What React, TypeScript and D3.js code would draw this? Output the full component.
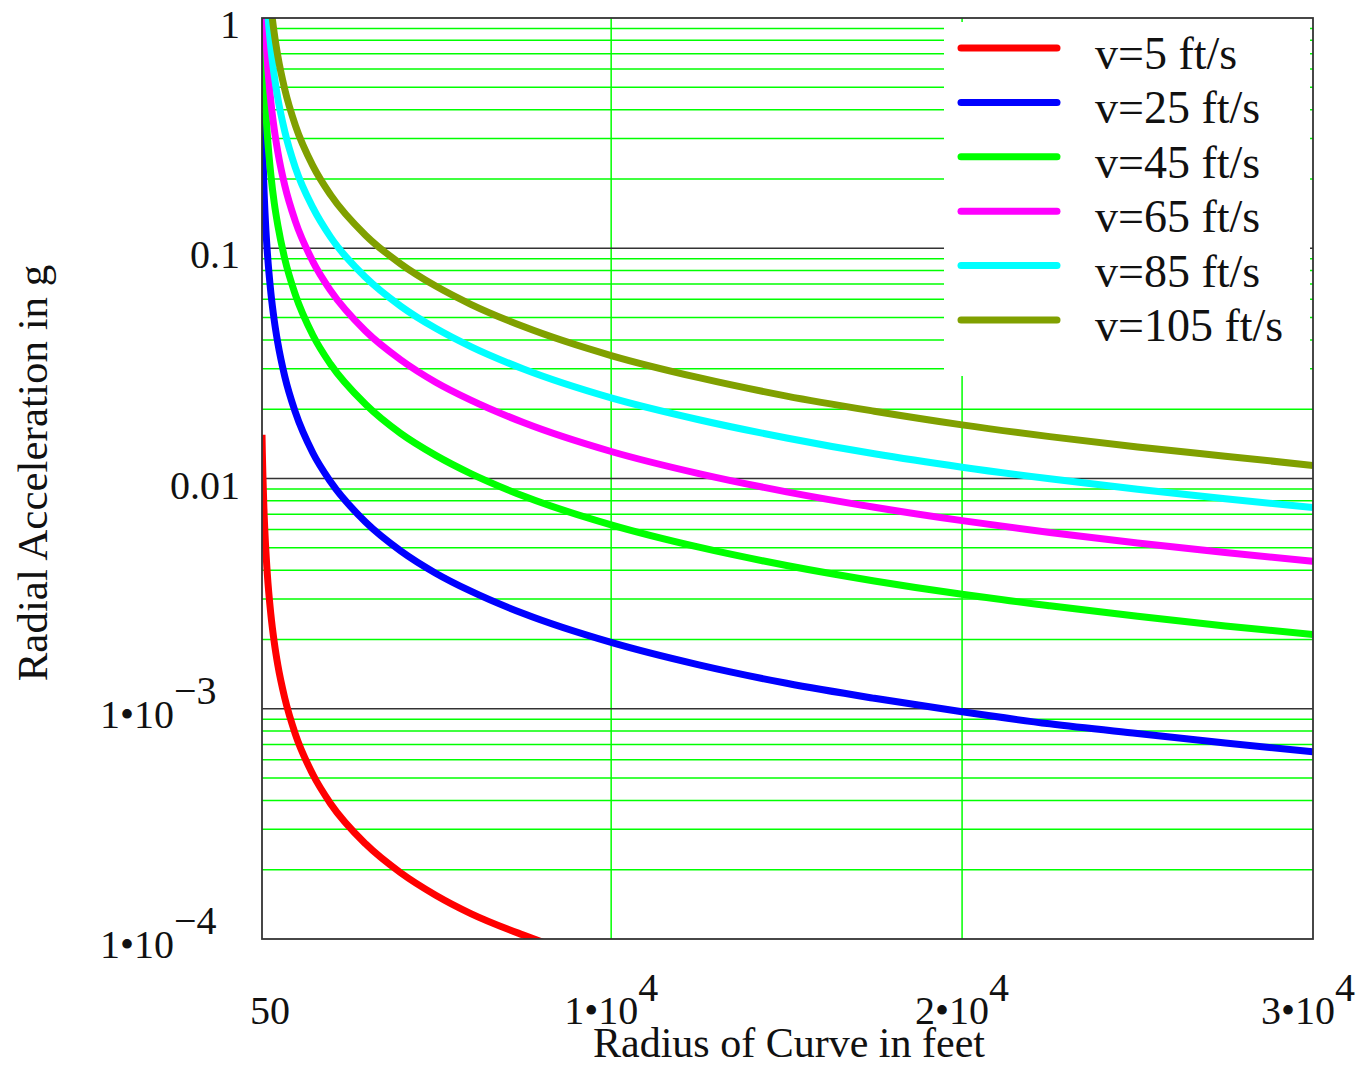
import React from "react";
import * as d3 from "d3";

// Radius of curve (ft) sample points
const radii = [50, 60, 75, 100, 150, 200, 300, 400, 500, 700, 1000, 1500, 2000, 3000, 4000, 5000, 6000, 7500, 10000, 12500, 15000, 17500, 20000, 22500, 25000, 27500, 30000];

// Radial acceleration in g
const accV5 = [0.0155, 0.0129, 0.0104, 0.00776, 0.00518, 0.00388, 0.00259, 0.00194, 0.00155, 0.00111, 0.000776, 0.000518, 0.000388, 0.000259, 0.000194, 0.000155, 0.000129, 0.000104, 0.0000776, 0.0000621, 0.0000518, 0.0000444, 0.0000388, 0.0000345, 0.0000311, 0.0000282, 0.0000259];
const accV25 = [0.388, 0.323, 0.259, 0.194, 0.129, 0.097, 0.0647, 0.0485, 0.0388, 0.0277, 0.0194, 0.0129, 0.0097, 0.00647, 0.00485, 0.00388, 0.00324, 0.00259, 0.00194, 0.00155, 0.00129, 0.00111, 0.00097, 0.00086, 0.00078, 0.00071, 0.00065];
const accV45 = [1.258, 1.048, 0.839, 0.629, 0.419, 0.314, 0.21, 0.157, 0.126, 0.0898, 0.0629, 0.0419, 0.0314, 0.021, 0.0157, 0.0126, 0.0105, 0.00839, 0.00629, 0.00503, 0.00419, 0.00359, 0.00314, 0.0028, 0.00252, 0.00229, 0.0021];
const accV65 = [2.62, 2.19, 1.75, 1.312, 0.875, 0.656, 0.437, 0.328, 0.262, 0.187, 0.131, 0.0875, 0.0656, 0.0437, 0.0328, 0.0262, 0.0219, 0.0175, 0.0131, 0.0105, 0.00875, 0.0075, 0.00656, 0.00583, 0.00525, 0.00477, 0.00437];
const accV85 = [4.49, 3.74, 2.99, 2.24, 1.496, 1.122, 0.748, 0.561, 0.449, 0.321, 0.224, 0.15, 0.112, 0.0748, 0.0561, 0.0449, 0.0374, 0.0299, 0.0224, 0.018, 0.015, 0.0128, 0.0112, 0.00997, 0.00898, 0.00816, 0.00748];
const accV105 = [6.85, 5.71, 4.57, 3.42, 2.28, 1.712, 1.141, 0.856, 0.685, 0.489, 0.342, 0.228, 0.171, 0.114, 0.0856, 0.0685, 0.0571, 0.0457, 0.0342, 0.0274, 0.0228, 0.0196, 0.0171, 0.0152, 0.0137, 0.0125, 0.0114];

const seriesNames = ["v=5 ft/s", "v=25 ft/s", "v=45 ft/s", "v=65 ft/s", "v=85 ft/s", "v=105 ft/s"];
const seriesValues = [accV5, accV25, accV45, accV65, accV85, accV105];
const seriesColors = ["#ff0000", "#0000ff", "#00ff00", "#ff00ff", "#00ffff", "#80a000"];

const yTickValues = [1, 0.1, 0.01, 0.001, 0.0001];
const yTickBase = ["1", "0.1", "0.01", "1\u202210", "1\u202210"];
const yTickExp = ["", "", "", "\u22123", "\u22124"];

const xTickValues = [50, 10000, 20000, 30000];
const xTickBase = ["50", "1\u202210", "2\u202210", "3\u202210"];
const xTickExp = ["", "4", "4", "4"];

const xGridValues = [10000, 20000];

const xTitle = "Radius of Curve in feet";
const yTitle = "Radial Acceleration in g";

const W = 1365;
const H = 1065;
const L = 262, R = 1313, T = 18, B = 939;
const FONT = "'Liberation Serif', 'Times New Roman', serif";

export default function App() {
  const x = d3.scaleLinear().domain([50, 30000]).range([L, R]);
  const y = d3.scaleLog().domain([1e-4, 1]).range([B, T]);

  const minor: number[] = [];
  const major: number[] = [];
  [1e-4, 1e-3, 1e-2, 1e-1].forEach((d, i) => {
    for (let m = 2; m <= 9; m++) minor.push(d * m);
    if (i > 0) major.push(d);
  });

  const line = d3
    .line<number>()
    .x((_, i) => x(radii[i]))
    .y((v) => y(v))
    .curve(d3.curveMonotoneX);

  const legendTop = 48;
  const legendStep = 54.4;

  return (
    <div style={{ position: "absolute", left: 0, top: 0 }}>
      <svg width={W} height={H} style={{ display: "block", background: "#fff" }} fontFamily={FONT}>
        <defs>
          <clipPath id="plotClip">
            <rect x={L} y={T} width={R - L} height={B - T} />
          </clipPath>
        </defs>
        <rect x={0} y={0} width={W} height={H} fill="#fff" />

        {/* minor grid */}
        {minor.map((v, i) => (
          <line key={"mn" + i} x1={L} x2={R} y1={y(v)} y2={y(v)} stroke="#00ff00" strokeWidth={1.5} />
        ))}
        {/* vertical grid */}
        {xGridValues.map((v, i) => (
          <line key={"vx" + i} x1={x(v)} x2={x(v)} y1={T} y2={B} stroke="#00ff00" strokeWidth={1.5} />
        ))}
        {/* major grid */}
        {major.map((v, i) => (
          <line key={"mj" + i} x1={L} x2={R} y1={y(v)} y2={y(v)} stroke="#333" strokeWidth={1.5} />
        ))}

        {/* legend box covering grid */}
        <rect x={944} y={22} width={366} height={354} fill="#fff" />

        {/* curves */}
        <g clipPath="url(#plotClip)">
          {seriesValues.map((vals, i) => (
            <path
              key={"s" + i}
              d={line(vals) || ""}
              fill="none"
              stroke={seriesColors[i]}
              strokeWidth={7}
              strokeLinejoin="round"
            />
          ))}
        </g>

        {/* frame */}
        <rect x={L} y={T} width={R - L} height={B - T} fill="none" stroke="#333" strokeWidth={1.8} />

        {/* legend */}
        {seriesNames.map((name, i) => {
          const ly = legendTop + i * legendStep;
          return (
            <g key={"lg" + i}>
              <line x1={961} x2={1057} y1={ly} y2={ly} stroke={seriesColors[i]} strokeWidth={7} strokeLinecap="round" />
              <text x={1095} y={ly + 21} fontSize={46} fill="#111">
                {name}
              </text>
            </g>
          );
        })}

        {/* y tick labels */}
        {yTickValues.map((v, i) =>
          yTickExp[i] ? (
            <text key={"yt" + i} x={100} y={y(v) + 19} fontSize={40} fill="#111">
              {yTickBase[i]}
              <tspan dy={-24}>{yTickExp[i]}</tspan>
            </text>
          ) : (
            <text key={"yt" + i} x={240} y={y(v) + 20} fontSize={40} textAnchor="end" fill="#111">
              {yTickBase[i]}
            </text>
          )
        )}

        {/* x tick labels */}
        {xTickValues.map((v, i) => (
          <text
            key={"xt" + i}
            x={x(v) + (i === 0 ? 8 : i === xTickValues.length - 1 ? -5 : 0)}
            y={1024}
            fontSize={40}
            textAnchor="middle"
            fill="#111"
          >
            {xTickBase[i]}
            {xTickExp[i] ? <tspan dy={-23}>{xTickExp[i]}</tspan> : null}
          </text>
        ))}

        {/* axis titles */}
        <text x={789} y={1057} fontSize={42} textAnchor="middle" fill="#111">
          {xTitle}
        </text>
        <text transform="translate(47,473) rotate(-90)" fontSize={43} textAnchor="middle" fill="#111">
          {yTitle}
        </text>
      </svg>
    </div>
  );
}
